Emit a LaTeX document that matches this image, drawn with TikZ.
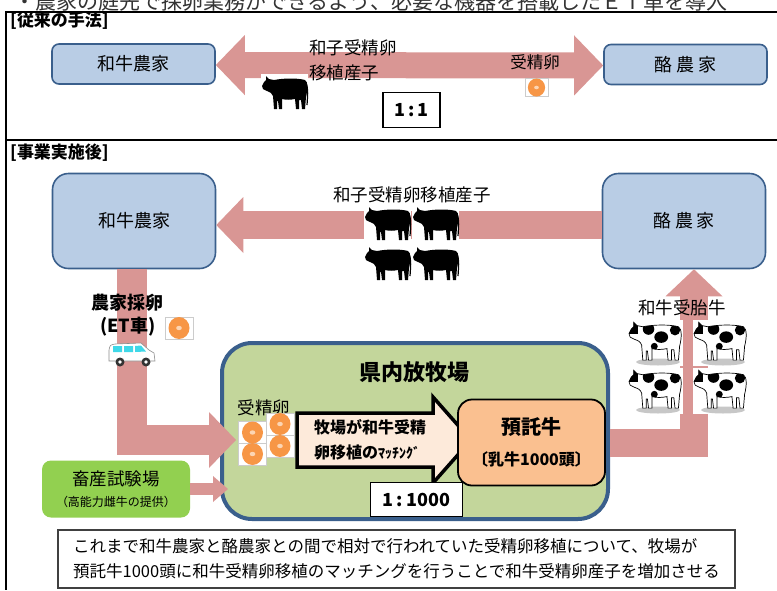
\documentclass[tikz,border=0pt]{standalone}
\usepackage{fontspec}
\setmainfont{Noto Sans CJK JP}
\usetikzlibrary{arrows.meta,positioning,calc}

\definecolor{boxblue}{HTML}{B9CDE5}
\definecolor{boxline}{HTML}{3A5F8C}
\definecolor{arrowpink}{HTML}{D99694}
\definecolor{pasture}{HTML}{C3D69B}
\definecolor{station}{HTML}{92D050}
\definecolor{trustbox}{HTML}{FAC090}
\definecolor{matchfill}{HTML}{FDEADA}
\definecolor{eggorange}{HTML}{F79646}
\definecolor{eggdot}{HTML}{FCD5B4}
\definecolor{vanglass}{HTML}{3FD8E8}

\newcommand\fsz[2]{\fontsize{#1}{#2}\selectfont}
% outline of a cow facing left, about 46 x 34
\newcommand\cowoutline{(4,1) -- (7,4) -- (12,5) .. controls (22,3) and (36,3) .. (43,5)
  .. controls (46,7) and (46,14) .. (44,22) -- (43,34) -- (40,34) -- (39,25) -- (37,25)
  -- (37,34) -- (34,34) -- (33,24) .. controls (28,25) and (24,25) .. (20,24) -- (20,34)
  -- (17,34) -- (16,26) -- (15,26) -- (15,34) -- (12,34) -- (11,21)
  .. controls (10,18) and (8,17) .. (5,16) -- (1,14) -- (0,11) -- (2,7) -- (4,5) -- cycle}

\begin{document}
\begin{tikzpicture}[x=1pt, y=-1pt,
  farm/.style={draw=boxline, fill=boxblue, line width=1.6pt, minimum width=163pt, font=\fsz{18}{22}},
  ratio/.style={draw, fill=white, line width=1.8pt, font=\bfseries\fsz{18}{22}},
  band/.style={draw=arrowpink, line width=#1, line join=miter},
  lbl/.style={font=\fsz{17.5}{25}, inner sep=0pt},
  head/.style={-{Triangle[length=27pt,width=56pt,line width=0pt]}},
  bull/.pic={
    \fill[white] (-1,-1) rectangle (46,36);
    \fill[black] \cowoutline;
    \draw[line width=1.2pt] (44,7) .. controls (46,15) .. (45,30);
  },
  holstein/.pic={
    \fill[white] (0,0) rectangle (55,46);
    \fill[black!22] (30,42) ellipse (22 and 3.5);
    \begin{scope}[shift={(1,1)}, scale=1.15]
      \draw[line width=.7pt, fill=white] \cowoutline;
      \begin{scope}
        \clip \cowoutline;
        \fill (0,0) rectangle (8,11);
        \fill (17,7) circle (5);
        \fill (28,14) ellipse (6 and 5);
        \fill (40,8) circle (4.5);
        \fill (22,22) circle (3);
      \end{scope}
    \end{scope}
  },
  egg/.pic={
    \draw[black!20, fill=white, line width=.8pt] (-14,-11) rectangle (14,11);
    \fill[eggorange] (0,0) ellipse (10.5 and 11);
    \fill[eggdot] (0,0) ellipse (2.8 and 2.2);
  },
  van/.pic={
    \draw[black!45, fill=white, line width=.6pt] (1,19) -- (1,8) .. controls (2,3) .. (7,2)
      -- (33,1) -- (41,8) -- (46,11) -- (47,19) -- cycle;
    \fill[vanglass] (5,4) rectangle (14,10) (16,4) rectangle (25,10)
      (27,4) -- (33,3.5) -- (38,9.5) -- (27,10) -- cycle;
    \foreach \wx in {12,38} {
      \fill[black!80] (\wx,20) circle (4.5);
      \fill[white] (\wx,20) circle (1.8);
    }
  }]

\useasboundingbox (0,0) rectangle (777,590);

% line of the page above, cut by the frame
\node[anchor=base west, font=\fsz{21}{24}, text=black!80, inner sep=0pt] (pagetext) at (14,9)
  {・農家の庭先で採卵業務ができるよう、必要な機器を搭載したＥＴ車を導入};

% frame
\draw[line width=2.4pt] (777,12) -- (6,12) -- (6,590);
\draw[line width=2.4pt] (6,140) -- (777,140);

\node[anchor=west, font=\bfseries\fsz{17}{20}, inner sep=0pt] (before) at (10,21) {[従来の手法]};
\node[anchor=west, font=\bfseries\fsz{17}{20}, inner sep=0pt] (after) at (10,153) {[事業実施後]};

% ---- former way
\node[farm, minimum height=40pt, rounded corners=7pt] (wagyuA) at (133.5,64) {和牛農家};
\node[farm, minimum height=40pt, rounded corners=7pt] (dairyA) at (685.5,64.5) {酪\hspace{4pt}農\hspace{4pt}家};
\draw[band=26pt, {Triangle[length=29pt,width=60pt,line width=0pt]}-{Triangle[length=29pt,width=60pt,line width=0pt]}]
  ([yshift=-1pt]wagyuA.east) -- ([yshift=-1pt]dairyA.west);
\node[lbl, anchor=west, align=left] (pupA) at (309,60) {和子受精卵\\移植産子};
\pic at (262,75) {bull};
\node[lbl, font=\fsz{16.5}{20}] (eggA) at (535,62) {受精卵};
\pic[scale=.82] at (536.5,87.5) {egg};
\node[ratio, minimum width=57pt, minimum height=35pt] (ratioA) at (411.5,110) {1\,:\,1};

% ---- after the project
\node[farm, minimum height=95pt, rounded corners=16pt] (wagyuB) at (134,221) {和牛農家};
\node[farm, minimum height=95pt, rounded corners=16pt] (dairyB) at (684,221) {酪\hspace{4pt}農\hspace{4pt}家};
\draw[band=28pt, head] ([yshift=-4pt]dairyB.west) -- ([yshift=-4pt]wagyuB.east);
\node[lbl] (pupB) at (412,195) {和子受精卵移植産子};
\foreach \cx in {365,413}
  \foreach \cy in {206,246}
    \pic at (\cx,\cy) {bull};

% pasture
\node[draw=boxline, fill=pasture, line width=4pt, rounded corners=30pt,
  minimum width=386pt, minimum height=176pt] (pasture) at (415,431) {};
\node[font=\bfseries\fsz{22}{26}, inner sep=0pt] (pastureT) at (414,372) {県内放牧場};

% egg collection on the farm
\coordinate (eggin) at (236,440);
\draw[band=30pt, head] ([xshift=-2pt]wagyuB.south) |- (eggin);
\node[font=\bfseries\fsz{18}{22}, inner sep=0pt] (collect) at (127,303) {農家採卵};
\node[font=\bfseries\fsz{18}{22}, inner sep=0pt] (etcar) at (128,327) {(ET車)};
\pic at (179,328) {egg};
\pic at (108,342) {van};

\node[lbl] (eggB) at (264,408) {受精卵};
\foreach \ex/\ey in {252.5/432.5, 252.5/454, 280/424, 280/446}
  \pic at (\ex,\ey) {egg};

% matching arrow
\draw[line width=3.5pt, fill=matchfill, line join=miter] (297,413) -- (433,413) -- (433,397)
  -- (471,440) -- (433,483) -- (433,467) -- (297,467) -- cycle;
\node[anchor=west, align=left, font=\bfseries\fsz{16}{25}, inner sep=0pt] (match) at (314,440)
  {牧場が和牛受精\\卵移植の{\fsz{14}{25}ﾏｯﾁﾝｸﾞ}};

\node[draw, fill=trustbox, line width=1.8pt, rounded corners=14pt, minimum width=147pt,
  minimum height=86pt, align=center, font=\bfseries\fsz{16}{31}] (trust) at (531.5,442.5)
  {{\fsz{20}{31}預託牛}\\〔乳牛1000頭〕};

% calves back to the dairy farm
\coordinate (calfup) at ([xshift=10pt]dairyB.south);
\draw[band=28pt, -{Triangle[length=27pt,width=57pt,line width=0pt]}] (trust.east -| pasture.east) -| (calfup);
\foreach \cx in {628,693}
  \foreach \cy in {320,368}
    \pic at (\cx,\cy) {holstein};
\node[lbl, font=\fsz{17.5}{20}] (calf) at (682,308) {和牛受胎牛};

\node[ratio, minimum width=92pt, minimum height=34pt] (ratioB) at (416.5,499.5) {1\,:\,1000};

% test station
\node[fill=station, rounded corners=9pt, minimum width=148pt, minimum height=57pt, align=center,
  font=\fsz{17.5}{21}] (station) at (116,489) {畜産試験場\\{\fsz{12}{21}（高能力雌牛の提供）}};
\coordinate (stationin) at (228,489);
\draw[band=12pt, -{Triangle[length=15pt,width=26pt,line width=0pt]}] (station.east) -- (stationin);

% summary
\node[draw=black!75, fill=white, line width=1.2pt, minimum width=677pt, minimum height=58pt,
  align=left, font=\fsz{16.5}{25}] (note) at (396.5,559)
  {これまで和牛農家と酪農家との間で相対で行われていた受精卵移植について、牧場が\\
   預託牛1000頭に和牛受精卵移植のマッチングを行うことで和牛受精卵産子を増加させる};
\end{tikzpicture}
\end{document}
